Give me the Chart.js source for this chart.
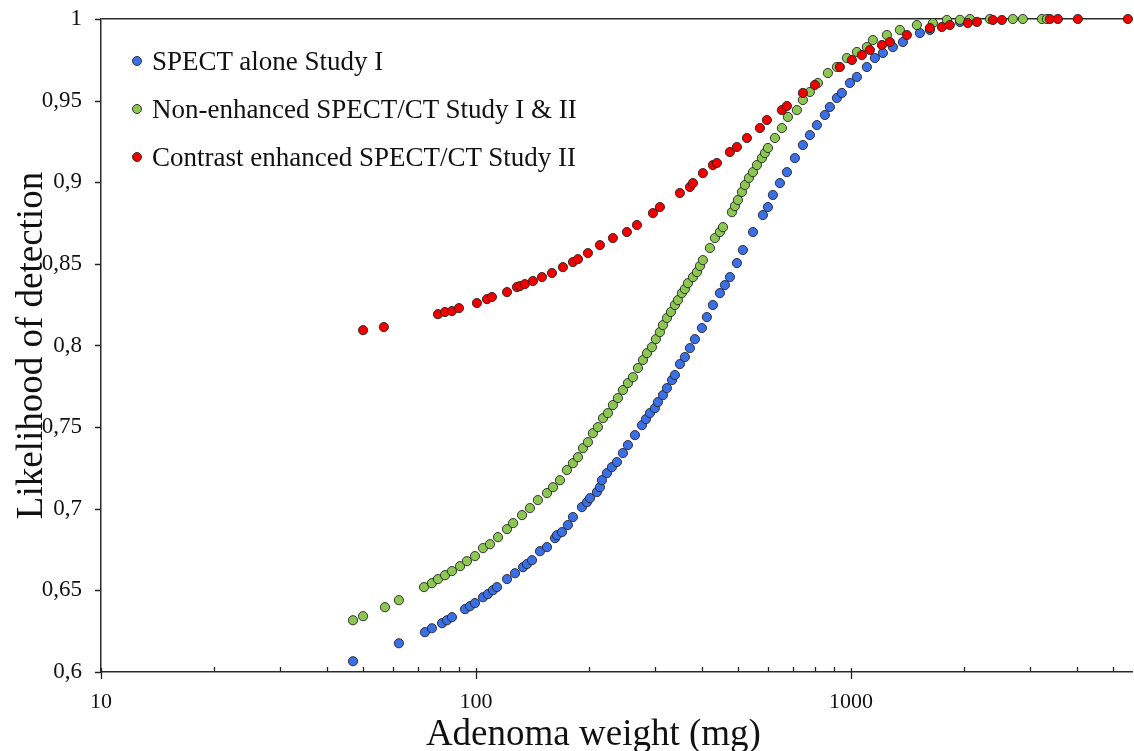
<!DOCTYPE html>
<html>
<head>
<meta charset="utf-8">
<script src="https://cdn.jsdelivr.net/npm/chart.js@4.4.1/dist/chart.umd.min.js"></script>
<style>
    html, body { margin: 0; padding: 0; background: #fff; }
    #contenedor { position: relative; width: 1134px; height: 751px; }
    #leyenda { position: absolute; left: 132px; top: 37px; font-family: 'Liberation Serif', 'Times New Roman', serif; font-size: 27px; color: #111; }
    .fila { display: flex; align-items: center; height: 48px; white-space: nowrap; }
    .punto { width: 8px; height: 8px; border-radius: 50%; border: 1px solid #333; margin-right: 10px; }
</style>
</head>
<body>
<div id="contenedor">
    <canvas id="chart" width="1134" height="751"></canvas>
    <div id="leyenda"></div>
</div>
<script>
/* Datos: peso del adenoma (mg) y probabilidad de deteccion */
const nombresSeries = ['SPECT alone Study I', 'Non-enhanced SPECT/CT Study I & II', 'Contrast enhanced SPECT/CT Study II'];
const coloresSeries = ['#3b6fe6', '#8cc653', '#f20000'];

const pesoSpect = [47.0, 62.3, 73.1, 76.3, 81.2, 83.7, 86.3, 93.5, 96.4, 99.4, 104.4, 107.6, 111.0, 113.8, 121.0, 127.1, 133.5, 136.8, 141.1, 148.2,
    154.7, 162.5, 164.4, 169.6, 175.9, 181.4, 191.7, 197.7, 201.4, 210.2, 214.1, 216.8, 223.5, 230.5, 237.7, 246.6, 254.3, 265.5, 277.2, 284.1,
    291.1, 300.1, 305.7, 315.3, 323.1, 333.3, 339.4, 349.9, 360.8, 372.1, 383.7, 400.6, 413.0, 428.5, 447.4, 461.3, 475.7, 496.6, 515.2, 548.0,
    582.6, 600.8, 619.4, 646.7, 675.1, 709.0, 744.7, 777.5, 811.6, 852.5, 879.0, 917.7, 946.2, 993.9, 1037.5, 1103.2, 1158.8, 1217.1, 1294.2, 1376.2,
    1527.6, 1624.3, 1953.7];
const probSpect = [0.6066, 0.6176, 0.6244, 0.6268, 0.6299, 0.6317, 0.6336, 0.6385, 0.6403, 0.6422, 0.6458, 0.6477, 0.6501, 0.6520, 0.6569, 0.6605, 0.6642, 0.6661, 0.6685, 0.6740,
    0.6765, 0.6820, 0.6838, 0.6857, 0.6900, 0.6949, 0.7010, 0.7040, 0.7065, 0.7102, 0.7132, 0.7175, 0.7218, 0.7255, 0.7286, 0.7341, 0.7390, 0.7451, 0.7512, 0.7549,
    0.7586, 0.7616, 0.7653, 0.7696, 0.7739, 0.7788, 0.7819, 0.7886, 0.7929, 0.7984, 0.8039, 0.8107, 0.8174, 0.8248, 0.8321, 0.8370, 0.8419, 0.8505, 0.8585, 0.8695,
    0.8799, 0.8848, 0.8922, 0.8995, 0.9062, 0.9148, 0.9228, 0.9289, 0.9350, 0.9412, 0.9461, 0.9516, 0.9547, 0.9608, 0.9645, 0.9706, 0.9761, 0.9792, 0.9828, 0.9859,
    0.9914, 0.9933, 0.9982];

const pesoNoRealzado = [47.0, 50.0, 57.2, 62.3, 72.7, 76.3, 79.2, 82.7, 86.3, 90.7, 94.6, 99.4, 104.4, 109.0, 114.5, 121.0, 125.6, 132.7, 139.3, 146.3,
    154.7, 160.5, 167.5, 174.8, 181.4, 187.1, 192.9, 198.9, 205.1, 211.5, 218.2, 224.9, 231.9, 239.1, 246.6, 254.3, 262.2, 270.4, 278.9, 285.8,
    294.7, 302.0, 309.5, 315.3, 323.1, 331.1, 339.4, 345.7, 354.3, 360.8, 367.6, 379.1, 388.5, 395.8, 403.0, 420.7, 433.9, 447.4, 455.9, 481.6,
    490.6, 499.7, 512.1, 521.7, 534.6, 548.0, 561.6, 579.0, 589.9, 600.8, 627.2, 654.6, 679.2, 717.8, 744.7, 777.5, 816.6, 868.3, 917.7, 975.7,
    1037.5, 1103.2, 1144.6, 1247.4, 1351.1, 1499.7, 1654.5, 1803.0, 1953.7, 2076.4, 2348.2, 2704.0, 2874.9, 3231.7, 3332.5];
const probNoRealzado = [0.6317, 0.6342, 0.6397, 0.6440, 0.6520, 0.6544, 0.6569, 0.6593, 0.6618, 0.6648, 0.6679, 0.6710, 0.6759, 0.6783, 0.6826, 0.6875, 0.6912, 0.6961, 0.7004, 0.7053,
    0.7096, 0.7132, 0.7175, 0.7237, 0.7279, 0.7316, 0.7371, 0.7408, 0.7463, 0.7500, 0.7555, 0.7586, 0.7635, 0.7678, 0.7727, 0.7770, 0.7806, 0.7862, 0.7911, 0.7953,
    0.7990, 0.8039, 0.8082, 0.8125, 0.8168, 0.8205, 0.8248, 0.8278, 0.8321, 0.8346, 0.8382, 0.8419, 0.8450, 0.8487, 0.8523, 0.8597, 0.8658, 0.8695, 0.8725, 0.8817,
    0.8854, 0.8891, 0.8940, 0.8983, 0.9026, 0.9062, 0.9105, 0.9148, 0.9179, 0.9210, 0.9271, 0.9332, 0.9400, 0.9442, 0.9504, 0.9553, 0.9608, 0.9669, 0.9706, 0.9761,
    0.9798, 0.9828, 0.9871, 0.9902, 0.9933, 0.9963, 0.9975, 0.9994, 0.9995, 1, 1, 1, 1, 1, 1];

const pesoContraste = [50.0, 56.8, 79.2, 82.7, 86.3, 90.1, 100.6, 107.0, 110.3, 121.0, 128.6, 131.0, 135.1, 141.9, 150.0, 159.5, 170.6, 181.4, 187.1, 198.9,
    214.1, 231.9, 252.7, 268.8, 296.5, 309.5, 349.9, 372.1, 379.1, 403.0, 428.5, 439.2, 475.7, 496.6, 528.1, 571.9, 597.0, 654.6, 675.1, 744.7,
    801.7, 934.7, 1006.2, 1069.8, 1123.8, 1210.0, 1270.6, 1410.4, 1624.3, 1748.2, 1836.5, 2051.2, 2167.8, 2391.8, 2527.7, 3394.0, 3564.5, 4030.0, 5480.0];
const probContraste = [0.8094, 0.8113, 0.8192, 0.8205, 0.8211, 0.8229, 0.8260, 0.8284, 0.8297, 0.8327, 0.8358, 0.8364, 0.8376, 0.8395, 0.8419, 0.8444, 0.8480, 0.8511, 0.8529, 0.8566,
    0.8615, 0.8658, 0.8695, 0.8738, 0.8811, 0.8848, 0.8934, 0.8971, 0.8995, 0.9056, 0.9105, 0.9118, 0.9185, 0.9216, 0.9271, 0.9332, 0.9381, 0.9442, 0.9467, 0.9547,
    0.9596, 0.9706, 0.9749, 0.9779, 0.9810, 0.9841, 0.9859, 0.9902, 0.9945, 0.9951, 0.9963, 0.9975, 0.9982, 0.9994, 0.9994, 1, 1, 1, 1];

/* Marcas de los ejes */
const marcasX = [10, 20, 30, 40, 50, 60, 70, 80, 90, 100, 200, 300, 400, 500, 600, 700, 800, 900, 1000, 2000, 3000, 4000, 5000];
const marcasXMayores = [10, 100, 1000];
const etiquetasX = ['10', '100', '1000'];
const marcasY = [0.6, 0.65, 0.7, 0.75, 0.8, 0.85, 0.9, 0.95, 1];
const etiquetasY = ['0,6', '0,65', '0,7', '0,75', '0,8', '0,85', '0,9', '0,95', '1'];

const fuente = "'Liberation Serif', 'Times New Roman', serif";
const ctx = document.querySelector('#chart').getContext('2d');

function puntos(xs, ys) {
    return xs.map((x, i) => ({ x: x, y: ys[i] }));
}

function serie(i, xs, ys, orden) {
    return {
        label: nombresSeries[i],
        data: puntos(xs, ys),
        backgroundColor: coloresSeries[i],
        borderColor: 'rgba(35,35,35,0.9)',
        borderWidth: 1,
        pointRadius: 4.6,
        pointStyle: 'circle',
        showLine: false,
        clip: false,
        order: orden
    };
}

/* Plugin para dibujar las marquitas de los ejes como en la figura */
const marcasEjes = {
    id: 'marcasEjes',
    afterDraw(chart) {
        const { ctx, scales: { x, y } } = chart;
        ctx.save();
        ctx.strokeStyle = '#222';
        ctx.lineWidth = 1.3;
        ctx.beginPath();
        x.ticks.forEach(t => {
            const px = Math.round(x.getPixelForValue(t.value)) + 0.5;
            if (marcasXMayores.includes(t.value)) {
                ctx.moveTo(px, y.bottom - 4);
                ctx.lineTo(px, y.bottom + 7);
            } else {
                ctx.moveTo(px, y.bottom - 5);
                ctx.lineTo(px, y.bottom);
            }
        });
        y.ticks.forEach(t => {
            const py = Math.round(y.getPixelForValue(t.value)) + 0.5;
            ctx.moveTo(x.left - 6, py);
            ctx.lineTo(x.left, py);
        });
        ctx.stroke();
        ctx.restore();
    }
};

const grafica = new Chart(ctx, {
    type: 'scatter',
    data: {
        datasets: [
            serie(0, pesoSpect, probSpect, 3),
            serie(1, pesoNoRealzado, probNoRealzado, 2),
            serie(2, pesoContraste, probContraste, 1)
        ]
    },
    options: {
        responsive: false,
        animation: false,
        layout: { autoPadding: false, padding: { top: 19, right: 2, left: 0, bottom: 0 } },
        plugins: {
            legend: { display: false },
            tooltip: { enabled: false }
        },
        scales: {
            x: {
                type: 'logarithmic',
                min: 10,
                max: 5620,
                afterBuildTicks: s => { s.ticks = marcasX.map(v => ({ value: v, major: marcasXMayores.includes(v) })); },
                afterFit: s => { s.height = 79; s.paddingLeft = 0; s.paddingRight = 0; },
                ticks: {
                    autoSkip: false,
                    maxRotation: 0,
                    padding: 17,
                    color: '#111',
                    font: { family: fuente, size: 22 },
                    callback: v => { const k = marcasXMayores.indexOf(v); return k >= 0 ? etiquetasX[k] : ''; }
                },
                grid: { drawOnChartArea: false, drawTicks: false },
                border: { display: true, color: '#2a2a2a', width: 1.5 },
                title: {
                    display: true,
                    /* espacios al final para correr el titulo a la izquierda como en la figura */
                    text: 'Adenoma weight (mg)\u00a0\u00a0\u00a0\u00a0\u00a0',
                    color: '#111',
                    font: { family: fuente, size: 37, lineHeight: 0.8 },
                    padding: { top: 0, bottom: 1 }
                }
            },
            y: {
                min: 0.6,
                max: 1,
                afterBuildTicks: s => { s.ticks = marcasY.map(v => ({ value: v })); },
                afterFit: s => { s.width = 101; s.paddingTop = 0; s.paddingBottom = 0; },
                ticks: {
                    padding: 19,
                    color: '#111',
                    font: { family: fuente, size: 23 },
                    callback: (v, i) => etiquetasY[i]
                },
                grid: {
                    drawTicks: false,
                    lineWidth: 1.5,
                    color: c => (c.tick && c.tick.value === 1) ? '#2a2a2a' : 'rgba(0,0,0,0)'
                },
                border: { display: true, color: '#2a2a2a', width: 1.5 },
                title: {
                    display: true,
                    text: 'Likelihood of detection',
                    color: '#111',
                    font: { family: fuente, size: 37, lineHeight: 1.2 },
                    padding: { top: 10, bottom: 0 }
                }
            }
        }
    },
    plugins: [marcasEjes]
});

/* Leyenda dentro del area de la grafica */
const leyenda = document.querySelector('#leyenda');
nombresSeries.forEach((nombre, i) => {
    const fila = document.createElement('div');
    fila.className = 'fila';
    const punto = document.createElement('span');
    punto.className = 'punto';
    punto.style.background = coloresSeries[i];
    const texto = document.createElement('span');
    texto.textContent = nombre;
    fila.appendChild(punto);
    fila.appendChild(texto);
    leyenda.appendChild(fila);
});
</script>
</body>
</html>
